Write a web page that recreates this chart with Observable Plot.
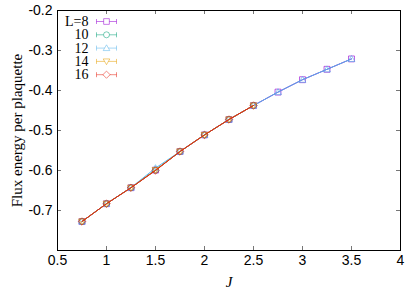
<!DOCTYPE html>
<html>
<head>
<meta charset="utf-8">
<script src="https://cdn.jsdelivr.net/npm/d3@7"></script>
<script src="https://cdn.jsdelivr.net/npm/@observablehq/plot@0.6"></script>
<style>
  html, body { margin: 0; padding: 0; background: #fff; }
</style>
</head>
<body>
<div id="chart"></div>
<script>
// ---- data ----
const seriesLabels = ["L=8", "10", "12", "14", "16"];
const seriesColors = ["#9400d3", "#009e73", "#56b4e9", "#e69f00", "#e51e10"];
const seriesSymbols = ["square", "circle", "triangleUp", "triangleDown", "diamond"];

const J_long = [0.75, 1.0, 1.25, 1.5, 1.75, 2.0, 2.25, 2.5, 2.75, 3.0, 3.25, 3.5];
const J_short = [0.75, 1.0, 1.25, 1.5, 1.75, 2.0, 2.25, 2.5];

const E_L8  = [-0.7275, -0.683, -0.643, -0.599, -0.5525, -0.511, -0.4725, -0.4375, -0.404, -0.373, -0.347, -0.321];
const E_L10 = [-0.7275, -0.683, -0.643, -0.599, -0.5525, -0.511, -0.4725, -0.4375];
const E_L12 = [-0.7275, -0.683, -0.6425, -0.594, -0.5525, -0.511, -0.4725, -0.4375, -0.404, -0.373, -0.347, -0.321];
const E_L14 = [-0.7275, -0.683, -0.643, -0.599, -0.5525, -0.511, -0.4725, -0.4375];
const E_L16 = [-0.7275, -0.683, -0.643, -0.600, -0.5525, -0.511, -0.4725, -0.4375];

const xTicks = [0.5, 1, 1.5, 2, 2.5, 3, 3.5, 4];
const yTicks = [-0.7, -0.6, -0.5, -0.4, -0.3, -0.2];
const xLabel = "J";
const yLabel = "Flux energy per plaquette";

// ---- build table ----
const seriesJ = [J_long, J_short, J_long, J_short, J_short];
const seriesE = [E_L8, E_L10, E_L12, E_L14, E_L16];
const rows = [];
seriesLabels.forEach((lab, i) => {
  seriesJ[i].forEach((j, k) => rows.push({s: i, J: j, E: seriesE[i][k]}));
});

// ---- custom symbols (size = r^2 * PI) ----
const half = size => Math.sqrt(size / Math.PI);
const symbolDefs = {
  square: {draw(c, s) { const h = half(s) * 0.95; c.rect(-h, -h, 2 * h, 2 * h); }},
  circle: {draw(c, s) { const h = half(s); c.moveTo(h, 0); c.arc(0, 0, h, 0, 2 * Math.PI); }},
  triangleUp: {draw(c, s) { const h = half(s) * 1.1; c.moveTo(0, -h); c.lineTo(h, h * 0.75); c.lineTo(-h, h * 0.75); c.closePath(); }},
  triangleDown: {draw(c, s) { const h = half(s) * 1.1; c.moveTo(0, h); c.lineTo(h, -h * 0.75); c.lineTo(-h, -h * 0.75); c.closePath(); }},
  diamond: {draw(c, s) { const h = half(s) * 1.2; c.moveTo(0, -h); c.lineTo(h, 0); c.lineTo(0, h); c.lineTo(-h, 0); c.closePath(); }}
};
const errBarSymbol = {draw(c, s) {
  const w = 10, cap = 2.5;
  c.moveTo(-w, 0); c.lineTo(w, 0);
  c.moveTo(-w, -cap); c.lineTo(-w, cap);
  c.moveTo(w, -cap); c.lineTo(w, cap);
}};

const W = 415, H = 291;
const mL = 57, mR = 15, mT = 10, mB = 41;
const innerW = W - mL - mR, innerH = H - mT - mB;
const serif = "'Liberation Serif', 'Times New Roman', serif";
const sans = "'Liberation Sans', Arial, Helvetica, sans-serif";

const marks = [];
// inward ticks on all four sides
marks.push(Plot.tickX(xTicks, {x: d => d, insetTop: innerH - 4, stroke: "#777", strokeWidth: 1}));
marks.push(Plot.tickX(xTicks, {x: d => d, insetBottom: innerH - 4, stroke: "#777", strokeWidth: 1}));
marks.push(Plot.tickY(yTicks, {y: d => d, insetRight: innerW - 4, stroke: "#777", strokeWidth: 1}));
marks.push(Plot.tickY(yTicks, {y: d => d, insetLeft: innerW - 4, stroke: "#777", strokeWidth: 1}));

// series: line + points, drawn in order
seriesLabels.forEach((lab, i) => {
  const data = rows.filter(r => r.s === i);
  marks.push(Plot.line(data, {x: "J", y: "E", stroke: seriesColors[i], strokeWidth: 1}));
  marks.push(Plot.dot(data, {x: "J", y: "E", r: 3.1, symbol: symbolDefs[seriesSymbols[i]], stroke: seriesColors[i], strokeWidth: 0.8, strokeOpacity: 0.8, fill: "none"}));
});

// legend
seriesLabels.forEach((lab, i) => {
  const dy = 11 + i * 13.3;
  marks.push(Plot.text([lab], {frameAnchor: "top-left", dx: 31, dy, text: d => d, textAnchor: "end", lineAnchor: "middle", fontFamily: serif, fontSize: 14, fill: "#000"}));
  marks.push(Plot.dot([lab], {frameAnchor: "top-left", dx: 49, dy, r: 3, symbol: errBarSymbol, stroke: seriesColors[i], strokeWidth: 0.8, strokeOpacity: 0.65, fill: "none"}));
  marks.push(Plot.dot([lab], {frameAnchor: "top-left", dx: 49, dy, r: 3, symbol: symbolDefs[seriesSymbols[i]], stroke: seriesColors[i], strokeWidth: 0.8, strokeOpacity: 0.65, fill: "white"}));
});

// axes labels
marks.push(Plot.axisX(xTicks, {tickSize: 0, tickPadding: 5, label: null, tickFormat: d => String(d), fontSize: 14, fontFamily: sans, fill: "#000"}));
marks.push(Plot.axisY(yTicks, {tickSize: 0, tickPadding: 5, label: null, tickFormat: d => d.toFixed(1), fontSize: 14, fontFamily: sans, fill: "#000"}));
marks.push(Plot.text([xLabel], {frameAnchor: "bottom", dy: 32, text: d => d, fontStyle: "italic", fontFamily: serif, fontSize: 15, textAnchor: "middle", lineAnchor: "middle", fill: "#000"}));
marks.push(Plot.text([yLabel], {frameAnchor: "left", dx: -40, text: d => d, rotate: -90, fontFamily: serif, fontSize: 15, textAnchor: "middle", lineAnchor: "middle", fill: "#000"}));
marks.push(Plot.frame({stroke: "#000", strokeWidth: 1}));

const chart = Plot.plot({
  width: W, height: H,
  marginLeft: mL, marginRight: mR, marginTop: mT, marginBottom: mB,
  x: {domain: [0.5, 4]},
  y: {domain: [-0.8, -0.2]},
  style: {fontFamily: sans, fontSize: "14px", background: "#fff", overflow: "visible"},
  marks
});
document.getElementById("chart").appendChild(chart);
</script>
</body>
</html>
